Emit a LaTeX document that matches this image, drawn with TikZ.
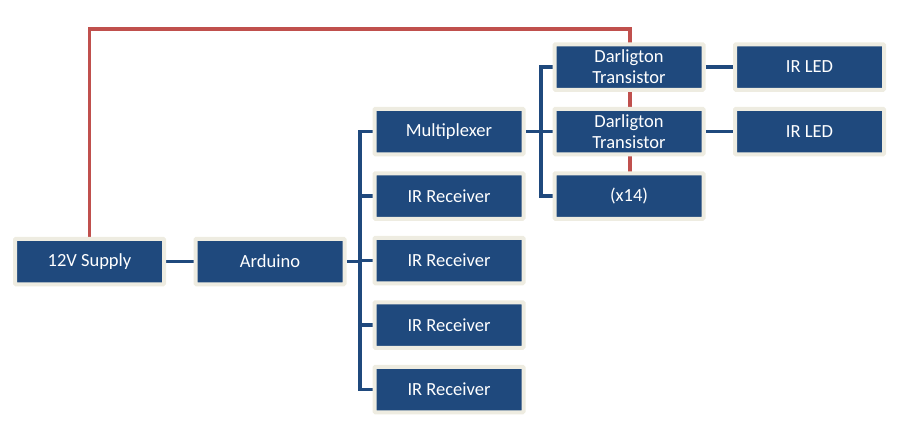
\documentclass[tikz,border=0pt]{standalone}
\usepackage{fontspec}
\setmainfont{Carlito}
\usetikzlibrary{backgrounds}
\definecolor{boxblue}{HTML}{1F497D}
\definecolor{boxrim}{HTML}{EEECE1}
\definecolor{redline}{HTML}{C0504D}
\begin{document}
\begin{tikzpicture}[x=1pt,y=-1pt,
  blk/.style={fill=boxblue,draw=boxrim,line width=4pt,minimum width=149pt,minimum height=45.5pt,
    rounded corners=1pt,inner sep=0pt,text=white,font=\fontsize{18.5}{21}\selectfont,align=center},
  bl/.style={draw=boxblue,line width=3.6pt,line join=miter},
  rl/.style={draw=redline,line width=3.2pt,line join=miter}]
\useasboundingbox (0,0) rectangle (900,434);
\node[blk] (sup) at (89.5,261.5) {12V Supply};
\node[blk] (ard) at (270,261.5) {Arduino};
\node[blk] (mux) at (449,131.5) {Multiplexer};
\node[blk] (r1) at (449,196) {IR Receiver};
\node[blk] (r2) at (449,260.5) {IR Receiver};
\node[blk] (r3) at (449,325) {IR Receiver};
\node[blk] (r4) at (449,389.5) {IR Receiver};
\node[blk] (d1) at (629,67) {Darligton\\Transistor};
\node[blk] (d2) at (629,131.5) {Darligton\\Transistor};
\node[blk] (x14) at (629,196) {(x14)};
\node[blk] (led1) at (809.5,67) {IR LED};
\node[blk] (led2) at (809.5,131.5) {IR LED};
\coordinate (b1) at (360,0);
\coordinate (b2) at (541,0);
\coordinate (rtop) at (630,29);
\begin{scope}[on background layer]
\draw[rl] (sup.center) |- (rtop) -- (rtop |- x14.center);
\draw[bl] (sup.east) -- (ard.west);
\draw[bl] (ard.east) -- (ard.east -| b1);
\draw[bl] (mux.west) -- (mux.west -| b1) -- (r4.west -| b1) -- (r4.west);
\draw[bl] (r1.west -| b1) -- (r1.west);
\draw[bl] (r2.west -| b1) -- (r2.west);
\draw[bl] (r3.west -| b1) -- (r3.west);
\draw[bl] (d1.west) -- (d1.west -| b2) -- (x14.west -| b2) -- (x14.west);
\draw[bl] (mux.east) -- (d2.west);
\draw[bl] (d1.east) -- (led1.west);
\draw[bl] (d2.east) -- (led2.west);
\end{scope}
\end{tikzpicture}
\end{document}
